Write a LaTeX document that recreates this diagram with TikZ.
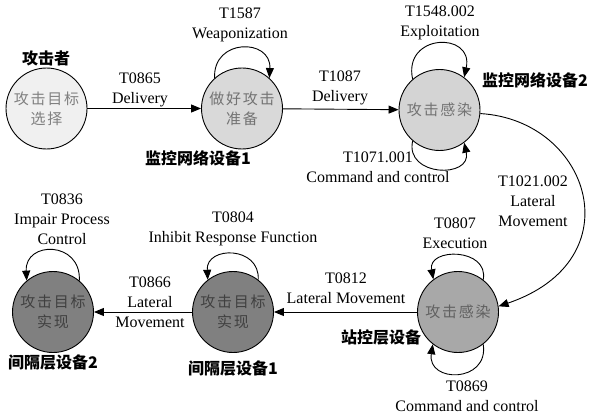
\documentclass[tikz,border=0pt]{standalone}
\usepackage{fontspec}
\setmainfont{Liberation Serif}
\newfontfamily\cjk[LetterSpace=12]{Noto Sans CJK SC}
\newfontfamily\cjkb{Noto Sans CJK SC}
\usetikzlibrary{arrows.meta}
\begin{document}
\begin{tikzpicture}[x=1pt,y=-1pt,
  state/.style={circle,draw=black,line width=0.9pt,minimum size=81pt,inner sep=0pt,align=center,
    font=\fontsize{15}{20}\selectfont\cjk},
  lbl/.style={align=center,font=\fontsize{16}{20}\selectfont,inner sep=0pt},
  dev/.style={font=\fontsize{16}{20}\selectfont\cjkb\bfseries,inner sep=0pt},
  arr/.style={line width=0.9pt,-{Triangle[length=10pt,width=8pt]}}]
\useasboundingbox (0,0) rectangle (591,417);
\fill[white] (0,0) rectangle (591,417);
% states
\node[state,fill=black!6,text=black!50] (n1) at (46.5,108.5) {攻击目标\\选择};
\node[state,fill=black!15,text=black!55] (n2) at (242,108.5) {做好攻击\\准备};
\node[state,fill=black!17,text=black!55] (n3) at (439.5,110) {攻击感染};
\node[state,fill=black!34,text=black!62] (n4) at (458,312) {攻击感染};
\node[state,fill=black!50,text=black!75] (n5) at (233,312) {攻击目标\\实现};
\node[state,fill=black!50,text=black!75] (n6) at (53,312) {攻击目标\\实现};
% device labels
\node[dev] (d0) at (46,58) {攻击者};
\node[dev] (d1) at (198,158) {监控网络设备1};
\node[dev] (d2) at (535,80) {监控网络设备2};
\node[dev] (d3) at (381,337) {站控层设备};
\node[dev] (d4) at (233,368) {间隔层设备1};
\node[dev] (d5) at (53,362) {间隔层设备2};
% straight transitions
\draw[arr] (n1) -- (n2);
\draw[arr] (n2) -- (n3);
\draw[arr] (n4) -- (n5);
\draw[arr] (n5) -- (n6);
\node[lbl] (l1) at (140,90) {T0865\\Delivery};
\node[lbl] (l2) at (340,88) {T1087\\Delivery};
\node[lbl] (l3) at (346,288) {T0812\\Lateral Movement};
\node[lbl] (l4) at (150,302) {T0866\\Lateral\\Movement};
% curved transition
\draw[arr] (n3.-5) .. controls (590,120) and (635,260) .. (n4.8);
\node[lbl] (l5) at (533,201) {T1021.002\\Lateral\\Movement};
% self loops
\draw[arr] (n2.132) .. controls +(-2,-40) and +(2,-40) .. (n2.48);
\node[lbl] (l6) at (240,25) {T1587\\Weaponization};
\draw[arr] (n3.131) .. controls +(-10,-46) and +(10,-46) .. (n3.53);
\node[lbl] (l7) at (440,23) {T1548.002\\Exploitation};
\draw[arr] (n3.-131) .. controls +(-8,36) and +(8,36) .. (n3.-53);
\node[lbl] (l8) at (378,167) {T1071.001\\Command and control};
\draw[arr] (n4.52) .. controls +(6,-32) and +(-6,-32) .. (n4.127);
\node[lbl] (l9) at (455,233) {T0807\\Execution};
\draw[arr] (n4.-52) .. controls +(6,39) and +(-6,39) .. (n4.-128);
\node[lbl] (l10) at (467,396) {T0869\\Command and control};
\draw[arr] (n5.52) .. controls +(2,-34) and +(-2,-34) .. (n5.128);
\node[lbl] (l11) at (233,229) {T0804\\Inhibit Response Function};
\draw[arr] (n6.50) .. controls +(2,-40) and +(-2,-40) .. (n6.130);
\node[lbl] (l12) at (62,219) {T0836\\Impair Process\\Control};
\end{tikzpicture}
\end{document}
